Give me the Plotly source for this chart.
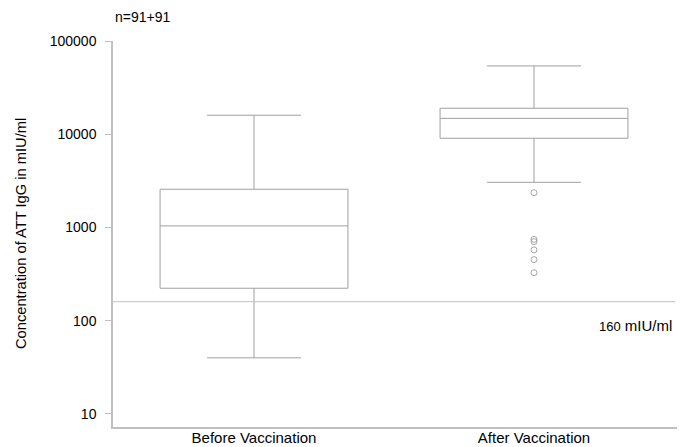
import math
import plotly.graph_objects as go

# ---- data ----
categories = ["Before Vaccination", "After Vaccination"]
q1_vals = [223, 9050]
median_vals = [1040, 14800]
q3_vals = [2570, 19000]
lower_whisker = [40, 3050]
upper_whisker = [16000, 54000]
outlier_category = "After Vaccination"
outlier_vals = [2360, 745, 705, 575, 452, 327]
threshold = 160
threshold_span = [0, 0.997]
y_tick_vals = [10, 100, 1000, 10000, 100000]
y_tick_text = ["10", "100", "1000", "10000", "100000"]
n_label = "n=91+91"
threshold_label = "<span style='font-size:13px'>160</span> mIU/ml"
y_title = "Concentration of ATT IgG in mIU/ml"

BOX_COLOR = "#a0a0a0"
AXIS_COLOR = "#c0c0c0"
FONT = "Liberation Sans, Arial, sans-serif"

fig = go.Figure()
for i, cat in enumerate(categories):
    fig.add_trace(go.Box(
        x=[cat], q1=[q1_vals[i]], median=[median_vals[i]], q3=[q3_vals[i]],
        lowerfence=[lower_whisker[i]], upperfence=[upper_whisker[i]],
        width=0.671, whiskerwidth=0.5, boxpoints=False,
        fillcolor="white", line=dict(color=BOX_COLOR, width=1),
        showlegend=False, hoverinfo="skip",
    ))

fig.add_trace(go.Scatter(
    x=[outlier_category] * len(outlier_vals), y=outlier_vals, mode="markers",
    marker=dict(symbol="circle-open", size=6, color="#909090", line=dict(width=0.8)),
    showlegend=False, hoverinfo="skip",
))

# threshold line on an invisible overlay x axis spanning the plot width
fig.add_trace(go.Scatter(
    x=threshold_span, y=[threshold, threshold], mode="lines", xaxis="x2",
    line=dict(color=AXIS_COLOR, width=1), showlegend=False, hoverinfo="skip",
))

fig.add_annotation(text=threshold_label, xref="paper", yref="y", x=0.995,
                   y=math.log10(threshold), xanchor="right", yanchor="top", yshift=-13,
                   showarrow=False, font=dict(size=15, color="black", family=FONT))
fig.add_annotation(text=n_label, xref="paper", yref="paper", x=0.0, y=1.0,
                   xanchor="left", yanchor="bottom", yshift=14, showarrow=False,
                   font=dict(size=14, color="black", family=FONT))
fig.add_annotation(text=y_title, xref="paper", yref="paper", x=-0.163, y=0.5,
                   textangle=-90, xanchor="center", yanchor="middle", showarrow=False,
                   font=dict(size=14.7, color="black", family=FONT))

fig.update_layout(
    width=685, height=447,
    margin=dict(l=113, r=8, t=41, b=20, autoexpand=False),
    plot_bgcolor="white", paper_bgcolor="white",
    font=dict(family=FONT, color="black"),
    xaxis=dict(type="category", categoryorder="array", categoryarray=categories,
               range=[-0.5036, 1.5107], showline=True, linecolor=AXIS_COLOR,
               linewidth=1.5, showgrid=False, ticks="", zeroline=False,
               ticklabelstandoff=-4,
               automargin=False, tickfont=dict(size=15, color="black")),
    xaxis2=dict(overlaying="x", range=[0, 1], visible=False, showgrid=False,
                zeroline=False, automargin=False),
    yaxis=dict(type="log", range=[0.86, 5], showline=True, linecolor=AXIS_COLOR,
               linewidth=1.5, showgrid=False, ticks="outside", ticklen=6,
               tickcolor=AXIS_COLOR, tickvals=y_tick_vals, ticktext=y_tick_text,
               ticklabelstandoff=6, zeroline=False, automargin=False,
               tickfont=dict(size=14, color="black")),
)

fig.write_html("out.html", config={"displayModeBar": False},
               post_script="document.body.style.margin='0';")
